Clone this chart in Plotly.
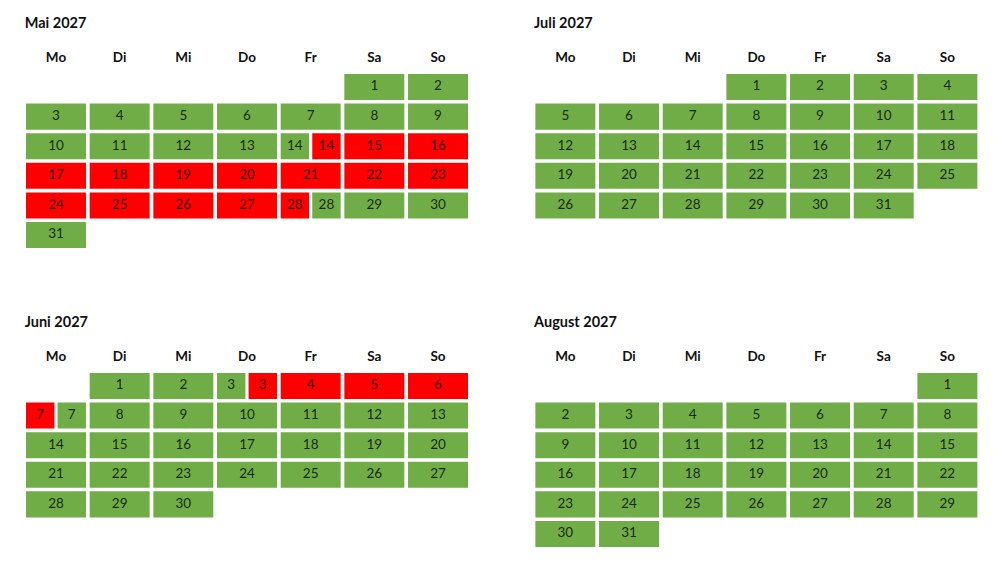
import calendar
import plotly.graph_objects as go

# --- data ---
month_names = ["Mai", "Juni", "Juli", "August"]
month_numbers = [5, 6, 7, 8]
year = 2027
weekday_labels = ["Mo", "Di", "Mi", "Do", "Fr", "Sa", "So"]

# days fully booked (red)
red_days = {
    5: list(range(15, 28)),
    6: [4, 5, 6],
    7: [],
    8: [],
}
# split days: first half green / second half red
green_red_days = {5: [14], 6: [3], 7: [], 8: []}
# split days: first half red / second half green
red_green_days = {5: [28], 6: [7], 7: [], 8: []}

# grid placement of the four month blocks (column offset, row offset)
block_col = [0, 0, 8, 8]
block_row = [0, 10.1, 0, 10.1]

GREEN = "#70AD47"
RED = "#FF0000"
FONT = "Lato"
cell_w = 0.942
cell_h = 0.88
half_gap = 0.05

rects = {GREEN: ([], []), RED: ([], [])}
num_x, num_y, num_t = [], [], []


def add_rect(color, x0, x1, y0, y1, label):
    xs, ys = rects[color]
    xs += [x0, x1, x1, x0, x0, None]
    ys += [y0, y0, y1, y1, y0, None]
    num_x.append((x0 + x1) / 2)
    num_y.append((y0 + y1) / 2)
    num_t.append(str(label))


head_x, head_y, head_t = [], [], []
title_x, title_y, title_t = [], [], []

for i, m in enumerate(month_numbers):
    first_wd, ndays = calendar.monthrange(year, m)
    c0, r0 = block_col[i], block_row[i]
    title_x.append(c0 - 0.02)
    title_y.append(r0 - 1.66)
    title_t.append(f"<b>{month_names[i]} {year}</b>")
    for k, wd in enumerate(weekday_labels):
        head_x.append(c0 + k + cell_w / 2)
        head_y.append(r0 - 0.51)
        head_t.append(f"<b>{wd}</b>")
    for d in range(1, ndays + 1):
        pos = d - 1 + first_wd
        col, row = pos % 7, pos // 7
        x0 = c0 + col
        x1 = x0 + cell_w
        y0 = r0 + row
        y1 = y0 + cell_h
        xm0 = x0 + (cell_w - half_gap) / 2
        xm1 = xm0 + half_gap
        if d in green_red_days[m]:
            add_rect(GREEN, x0, xm0, y0, y1, d)
            add_rect(RED, xm1, x1, y0, y1, d)
        elif d in red_green_days[m]:
            add_rect(RED, x0, xm0, y0, y1, d)
            add_rect(GREEN, xm1, x1, y0, y1, d)
        elif d in red_days[m]:
            add_rect(RED, x0, x1, y0, y1, d)
        else:
            add_rect(GREEN, x0, x1, y0, y1, d)

fig = go.Figure()
for color, (xs, ys) in rects.items():
    fig.add_trace(go.Scatter(x=xs, y=ys, mode="lines", fill="toself",
                             fillcolor=color, line=dict(width=0),
                             hoverinfo="skip", showlegend=False))

fig.add_trace(go.Scatter(x=num_x, y=num_y, text=num_t, mode="text",
                         textfont=dict(family=FONT, size=13.5, color="rgba(0,0,0,0.8)"),
                         hoverinfo="skip", showlegend=False))
fig.add_trace(go.Scatter(x=head_x, y=head_y, text=head_t, mode="text",
                         textfont=dict(family=FONT, size=13.5, color="#111"),
                         hoverinfo="skip", showlegend=False))
fig.add_trace(go.Scatter(x=title_x, y=title_y, text=title_t, mode="text",
                         textposition="middle right",
                         textfont=dict(family=FONT, size=14.5, color="#111"),
                         hoverinfo="skip", showlegend=False))

fig.update_layout(
    width=990, height=554,
    margin=dict(l=0, r=0, t=0, b=0),
    paper_bgcolor="white", plot_bgcolor="white",
    xaxis=dict(range=[-0.2827, 15.266], visible=False, fixedrange=True),
    yaxis=dict(range=[16.486, -2.23], visible=False, fixedrange=True),
)

fig.write_html("out.html")
